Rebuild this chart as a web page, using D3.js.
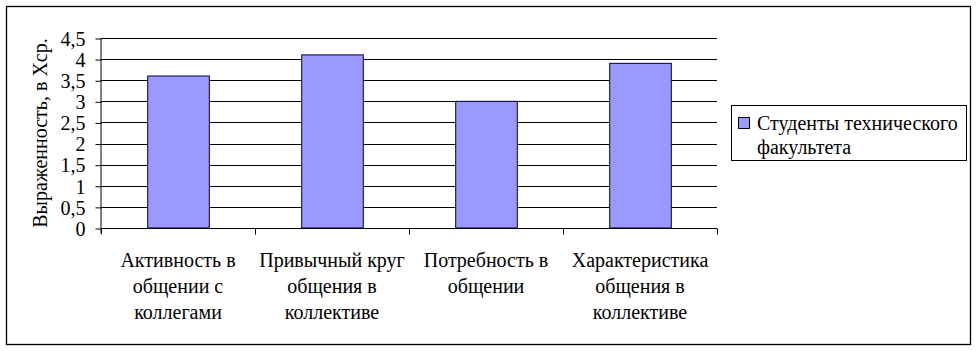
<!DOCTYPE html>
<html><head><meta charset="utf-8">
<script src="https://cdn.jsdelivr.net/npm/d3@7"></script>
<style>body{margin:0;background:#fff;}</style>
</head><body>
<svg id="c" width="979" height="351" style="font-family:'Liberation Serif','Times New Roman',serif"></svg>
<script>
const categories = [
  ["Активность в","общении с","коллегами"],
  ["Привычный круг","общения в","коллективе"],
  ["Потребность в","общении"],
  ["Характеристика","общения в","коллективе"]
];
const values = [3.6, 4.1, 3.0, 3.9];
const yTicks = [0,0.5,1,1.5,2,2.5,3,3.5,4,4.5];
const seriesName = ["Студенты технического","факультета"];
const yTitle = "Выраженность, в Хср.";

(function(){
const FONT = '"Liberation Serif","Times New Roman",serif';
const svg = d3.select("#c");
const fs = 20;
svg.append("rect").attr("x",6.5).attr("y",6.5).attr("width",964).attr("height",338)
  .attr("fill","#fff").attr("stroke","#000").attr("stroke-width",1.3);

const pL=101, pR=717, pT=38, pB=228;
const x = d3.scaleBand().domain(d3.range(categories.length)).range([pL,pR]).paddingInner(0).paddingOuter(0);
const y = d3.scaleLinear().domain([0,4.5]).range([pB,pT]);

// gridlines
svg.append("g").selectAll("line").data(yTicks.filter(d=>d>0)).join("line")
  .attr("x1",pL).attr("x2",pR).attr("y1",d=>Math.round(y(d))+0.5).attr("y2",d=>Math.round(y(d))+0.5)
  .attr("stroke","#000").attr("stroke-width",1);

// bars
const bw = x.bandwidth()/2.5;
svg.append("g").selectAll("rect").data(values).join("rect")
  .attr("x",(d,i)=>x(i)+x.bandwidth()/2-bw/2+0.5)
  .attr("y",d=>y(d))
  .attr("width",bw).attr("height",d=>pB-y(d))
  .attr("fill","#9999ff").attr("stroke","#000033").attr("stroke-width",1);

// y axis
const ya = svg.append("g").attr("transform",`translate(${pL+0.5},0.5)`)
  .call(d3.axisLeft(y).tickValues(yTicks).tickSize(6).tickPadding(10)
  .tickFormat(d=>String(d).replace(".",",")));
ya.attr("font-family",null).attr("font-size",null);
ya.select(".domain").attr("d",`M-0.5,${pT}V${pB+5}`).attr("stroke","#000");
ya.selectAll("text").style("font-size",fs+"px").style("font-family",FONT).attr("fill","#000").attr("dy","0.34em");

// x axis
const xa = svg.append("g").attr("transform",`translate(0,${pB+0.5})`);
xa.append("line").attr("x1",pL).attr("x2",pR).attr("stroke","#000");
xa.selectAll("line.t").data(d3.range(categories.length+1)).join("line").attr("class","t")
  .attr("x1",i=>Math.round(pL+i*x.bandwidth())+0.5).attr("x2",i=>Math.round(pL+i*x.bandwidth())+0.5)
  .attr("y1",0).attr("y2",6).attr("stroke","#000");
const lbl = xa.selectAll("text").data(categories).join("text")
  .attr("text-anchor","middle").style("font-size",fs+"px").style("font-family",FONT)
  .attr("transform",(d,i)=>`translate(${x(i)+x.bandwidth()/2},0)`);
lbl.selectAll("tspan").data(d=>d).join("tspan").attr("x",0).attr("y",(d,j)=>38+j*26.3).text(d=>d);

// y title
svg.append("text").attr("transform",`translate(46.5,${(pT+pB)/2}) rotate(-90)`)
  .attr("text-anchor","middle").style("font-size",fs+"px").style("font-family",FONT).text(yTitle);

// legend
const lg = svg.append("g");
lg.append("rect").attr("x",731.5).attr("y",105.5).attr("width",235).attr("height",55)
  .attr("fill","#fff").attr("stroke","#000");
lg.append("rect").attr("x",738.5).attr("y",117.5).attr("width",11).attr("height",11)
  .attr("fill","#9999ff").attr("stroke","#000");
lg.append("text").style("font-size",fs+"px").style("font-family",FONT).selectAll("tspan").data(seriesName).join("tspan")
  .attr("x",757).attr("y",(d,i)=>130+i*23.5).text(d=>d);
})();
</script>
</body></html>
